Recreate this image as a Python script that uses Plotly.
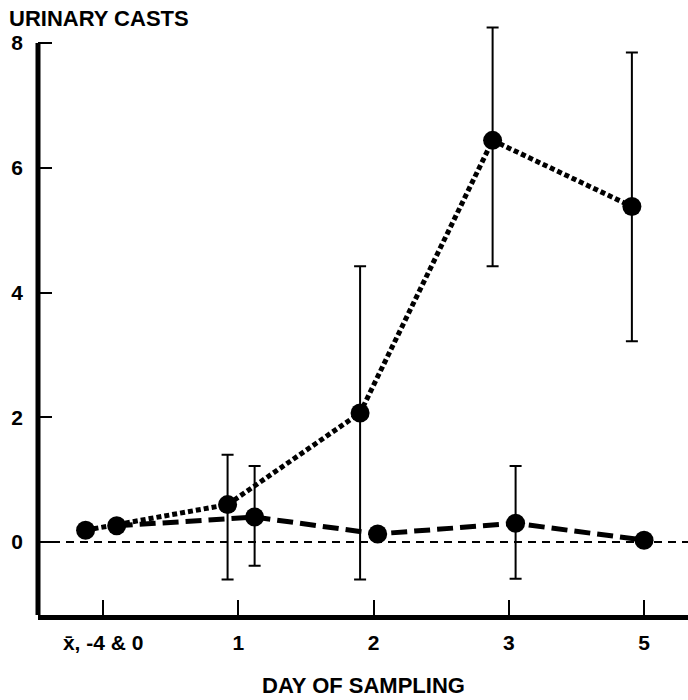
import plotly.graph_objects as go

# ---- data ----
categories = ["x\u0304, -4 & 0", "1", "2", "3", "5"]
cat_index = [0, 1, 2, 3, 4]

dotted_mean = [0.19, 0.60, 2.07, 6.44, 5.38]
dotted_hi = [None, 1.40, 4.42, 8.25, 7.85]
dotted_lo = [None, -0.60, -0.60, 4.42, 3.22]

dashed_mean = [0.26, 0.40, 0.13, 0.30, 0.03]
dashed_hi = [None, 1.22, None, 1.22, None]
dashed_lo = [None, -0.38, None, -0.59, None]

# small horizontal offsets of the points from their category ticks
dotted_offset = [-0.13, -0.08, -0.10, -0.12, -0.09]
dashed_offset = [0.10, 0.12, 0.03, 0.05, 0.00]

Y_BOTTOM = -1.17
Y_TOP = 8.45


def err(hi, lo, mean):
    plus = [(h - m) if h is not None else 0 for h, m in zip(hi, mean)]
    minus = [(m - l) if l is not None else 0 for l, m in zip(lo, mean)]
    return plus, minus


fig = go.Figure()

dp, dm = err(dotted_hi, dotted_lo, dotted_mean)
fig.add_trace(go.Scatter(
    x=[i + o for i, o in zip(cat_index, dotted_offset)],
    y=dotted_mean,
    mode="lines+markers",
    line=dict(color="black", width=5, dash="5px,3px"),
    marker=dict(color="black", size=19, symbol="circle"),
    error_y=dict(type="data", array=dp, arrayminus=dm, symmetric=False,
                 color="black", thickness=2, width=6),
    showlegend=False, cliponaxis=False,
))

ep, em = err(dashed_hi, dashed_lo, dashed_mean)
fig.add_trace(go.Scatter(
    x=[i + o for i, o in zip(cat_index, dashed_offset)],
    y=dashed_mean,
    mode="lines+markers",
    line=dict(color="black", width=5, dash="16px,7px"),
    marker=dict(color="black", size=19, symbol="circle"),
    error_y=dict(type="data", array=ep, arrayminus=em, symmetric=False,
                 color="black", thickness=2, width=6),
    showlegend=False, cliponaxis=False,
))

# zero reference line
fig.add_shape(type="line", xref="paper", x0=0, x1=1, yref="y", y0=0, y1=0,
              line=dict(color="black", width=2, dash="8px,6px"), layer="below")
# left axis line (ends at 8)
fig.add_shape(type="line", xref="paper", x0=0, x1=0, yref="y", y0=Y_BOTTOM, y1=8,
              line=dict(color="black", width=5), layer="above")

fig.add_annotation(text="<b>URINARY CASTS</b>", xref="paper", yref="paper",
                   x=-0.048, y=0.995, xanchor="left", yanchor="middle",
                   showarrow=False, font=dict(family="Liberation Sans, Arial", size=22, color="black"))
fig.add_annotation(text="<b>DAY OF SAMPLING</b>", xref="paper", yref="paper",
                   x=0.5, y=-0.118, xanchor="center", yanchor="middle",
                   showarrow=False, font=dict(family="Liberation Sans, Arial", size=22, color="black"))

tick_font = dict(family="Liberation Sans, Arial", size=21, color="black", weight="bold")

fig.update_layout(
    width=688, height=700,
    margin=dict(l=38, r=0, t=15, b=85),
    paper_bgcolor="white", plot_bgcolor="white",
    font=dict(family="Liberation Sans, Arial", size=21, color="black"),
    xaxis=dict(
        range=[-0.482, 4.325], tickmode="array", tickvals=cat_index, ticktext=categories,
        showgrid=False, zeroline=False, showline=True, linecolor="black", linewidth=5,
        ticks="inside", ticklen=15, tickwidth=2, tickcolor="black",
        ticklabelstandoff=5, tickfont=tick_font,
    ),
    yaxis=dict(
        range=[Y_BOTTOM, Y_TOP], tickmode="array", tickvals=[0, 2, 4, 6, 8],
        ticktext=["0", "2", "4", "6", "8"],
        showgrid=False, zeroline=False, showline=False,
        ticks="inside", ticklen=14, tickwidth=2, tickcolor="black",
        ticklabelstandoff=14, tickfont=tick_font,
    ),
)

fig.write_html("out.html", config={"displayModeBar": False},
               post_script="document.body.style.margin='0';document.body.style.overflow='hidden';")
